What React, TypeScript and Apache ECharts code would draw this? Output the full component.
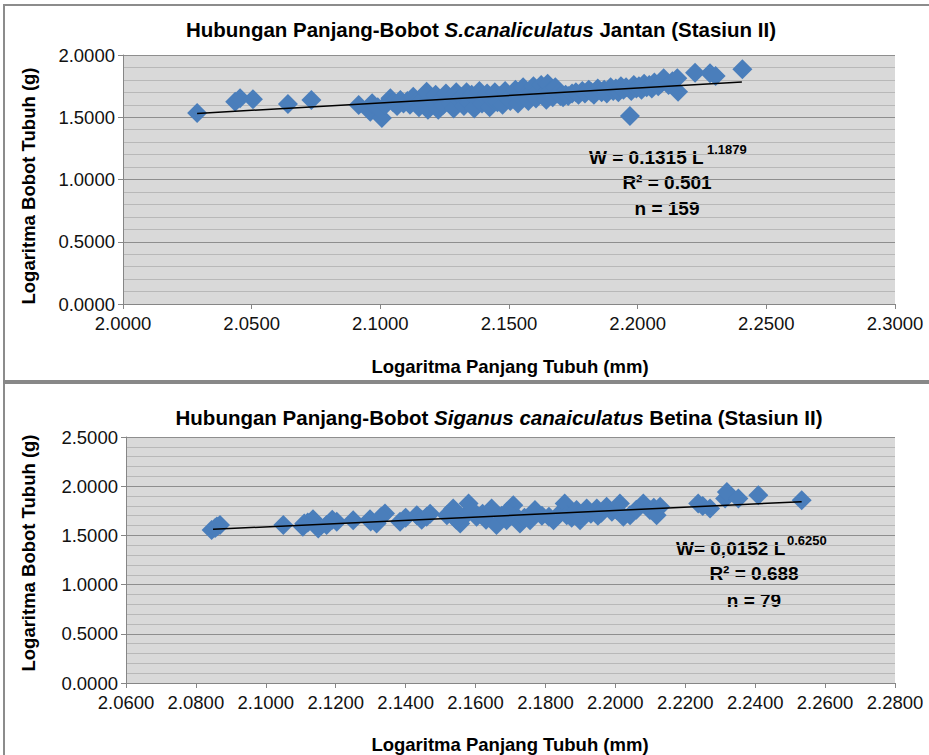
import React, { useEffect, useRef } from "react";
import * as echarts from "echarts";

const FONT = "Liberation Sans";

// Top chart (Jantan) – log length / log weight
const maleLogL = [
  2.0288, 2.0436, 2.0455, 2.0505, 2.0641, 2.0732,
  2.0916, 2.0961, 2.0968, 2.1006, 2.0990,
  2.1020, 2.1039, 2.1050, 2.1065, 2.1078, 2.1090, 2.1105, 2.1115, 2.1128, 2.1140, 2.1150, 2.1160, 2.1170, 2.1180, 2.1185, 2.1195,
  2.1205, 2.1215, 2.1225, 2.1235, 2.1245, 2.1255, 2.1265, 2.1275, 2.1285, 2.1295, 2.1305, 2.1315, 2.1325, 2.1335, 2.1345,
  2.1355, 2.1365, 2.1375, 2.1385, 2.1395, 2.1405, 2.1415, 2.1425, 2.1435, 2.1445, 2.1455, 2.1465, 2.1475, 2.1485, 2.1495,
  2.1505, 2.1515, 2.1525, 2.1535, 2.1545, 2.1555, 2.1565, 2.1575, 2.1585, 2.1595, 2.1605, 2.1615, 2.1625, 2.1635, 2.1645,
  2.1650, 2.1660, 2.1670, 2.1680, 2.1690,
  2.1700, 2.1710, 2.1720, 2.1730, 2.1745, 2.1760, 2.1770, 2.1785, 2.1795, 2.1810, 2.1820, 2.1830, 2.1845, 2.1860, 2.1870,
  2.1880, 2.1895,
  2.1905, 2.1915, 2.1925, 2.1935, 2.1945, 2.1955, 2.1970, 2.1975, 2.1985, 2.1995, 2.2005, 2.2015, 2.2025, 2.2035, 2.2045,
  2.2055, 2.2065, 2.2080, 2.2090, 2.2101, 2.2120, 2.2135, 2.2154, 2.2157,
  2.2223, 2.2281, 2.2303, 2.2407,
];
const maleLogW = [
  1.534, 1.625, 1.652, 1.644, 1.606, 1.639,
  1.598, 1.545, 1.612, 1.494, 1.580,
  1.600, 1.652, 1.620, 1.590, 1.639, 1.610, 1.630, 1.600, 1.665, 1.620, 1.580, 1.640, 1.600, 1.705, 1.560, 1.650,
  1.620, 1.680, 1.560, 1.640, 1.600, 1.690, 1.650, 1.610, 1.570, 1.700, 1.640, 1.660, 1.590, 1.700, 1.620,
  1.680, 1.570, 1.650, 1.710, 1.610, 1.660, 1.690, 1.580, 1.640, 1.700, 1.620, 1.670, 1.600, 1.710, 1.650,
  1.630, 1.690, 1.720, 1.610, 1.660, 1.740, 1.680, 1.630, 1.700, 1.750, 1.650, 1.720, 1.760, 1.690, 1.640,
  1.770, 1.710, 1.660, 1.740, 1.690,
  1.670, 1.660, 1.680, 1.670, 1.690, 1.700, 1.680, 1.710, 1.690, 1.720, 1.700, 1.680, 1.730, 1.700, 1.720,
  1.690, 1.740,
  1.710, 1.730, 1.700, 1.750, 1.720, 1.740, 1.510, 1.710, 1.760, 1.730, 1.750, 1.720, 1.770, 1.740, 1.760,
  1.730, 1.780, 1.750, 1.770, 1.813, 1.760, 1.790, 1.813, 1.705,
  1.858, 1.853, 1.831, 1.885,
];
const maleTrendL = [2.0288, 2.2405];
const maleTrendW = [1.53, 1.783];

// Bottom chart (Betina)
const femaleLogL = [
  2.0845, 2.0869, 2.0855, 2.0860,
  2.1050, 2.1106, 2.1120, 2.1135, 2.1174, 2.1150, 2.1203, 2.1190, 2.1110,
  2.1250, 2.1298, 2.1317, 2.1341, 2.1330, 2.1384, 2.1432, 2.1446, 2.1460, 2.1300, 2.1400, 2.1470,
  2.1518, 2.1536, 2.1556, 2.1570, 2.1580, 2.1592, 2.1603, 2.1545, 2.1620, 2.1630,
  2.1646, 2.1660, 2.1675, 2.1689, 2.1708, 2.1715, 2.1727, 2.1740, 2.1756, 2.1770, 2.1690, 2.1790,
  2.1823, 2.1840, 2.1855, 2.1861, 2.1875, 2.1889, 2.1899, 2.1918, 2.1930, 2.1810,
  2.1947, 2.1960, 2.1975, 2.1990, 2.2004, 2.2013, 2.2023, 2.2042, 2.1950,
  2.2080, 2.2099, 2.2110, 2.2118, 2.2128, 2.2060,
  2.2237, 2.2271, 2.2314, 2.2319, 2.2352, 2.2409, 2.2533, 2.2250,
];
const femaleLogW = [
  1.554, 1.605, 1.575, 1.590,
  1.605, 1.588, 1.630, 1.665, 1.605, 1.570, 1.638, 1.660, 1.620,
  1.655, 1.663, 1.622, 1.723, 1.690, 1.638, 1.706, 1.660, 1.689, 1.640, 1.680, 1.720,
  1.706, 1.774, 1.622, 1.700, 1.825, 1.750, 1.689, 1.660, 1.720, 1.660,
  1.774, 1.605, 1.700, 1.655, 1.806, 1.700, 1.622, 1.680, 1.655, 1.757, 1.740, 1.700,
  1.655, 1.720, 1.825, 1.706, 1.680, 1.757, 1.655, 1.774, 1.720, 1.690,
  1.774, 1.730, 1.790, 1.740, 1.757, 1.825, 1.689, 1.706, 1.700,
  1.825, 1.757, 1.780, 1.706, 1.790, 1.760,
  1.825, 1.774, 1.876, 1.942, 1.876, 1.909, 1.858, 1.800,
];
const femaleTrendL = [2.0849, 2.2533];
const femaleTrendW = [1.562, 1.842];

const topTicksX = { min: 2.0, max: 2.3, interval: 0.05 };
const bottomTicksX = { min: 2.06, max: 2.28, interval: 0.02 };
const topTicksY = { min: 0, max: 2.0, interval: 0.5 };
const bottomTicksY = { min: 0, max: 2.5, interval: 0.5 };

const zip = (a: number[], b: number[]) => a.map((v, i) => [v, b[i]]);

const BLUE = "#4a7ebb";
const AXIS = "#868686";
const TICK_FS = 18.5;

function yAxis(grid: number, t: { min: number; max: number; interval: number }) {
  return {
    type: "value",
    gridIndex: grid,
    min: t.min,
    max: t.max,
    interval: t.interval,
    axisLabel: {
      formatter: (v: number) => v.toFixed(4),
      fontSize: TICK_FS,
      color: "#111",
      fontFamily: FONT,
      margin: 8,
    },
    axisLine: { show: true, lineStyle: { color: AXIS } },
    axisTick: { show: true, length: 5, lineStyle: { color: AXIS } },
    splitLine: { show: true, lineStyle: { color: "#8e8e8e", width: 1 } },
    minorTick: { show: false, splitNumber: 5 },
    minorSplitLine: { show: true, lineStyle: { color: "#b8b8b8", width: 1 } },
  };
}

function xAxis(grid: number, t: { min: number; max: number; interval: number }) {
  return {
    type: "value",
    gridIndex: grid,
    min: t.min,
    max: t.max,
    interval: t.interval,
    axisLabel: {
      formatter: (v: number) => v.toFixed(4),
      fontSize: TICK_FS,
      color: "#111",
      fontFamily: FONT,
      margin: 10,
    },
    axisLine: { show: true, onZero: false, lineStyle: { color: AXIS } },
    axisTick: { show: true, length: 5, lineStyle: { color: AXIS } },
    splitLine: { show: false },
  };
}

const bold = (size: number) => `bold ${size}px "${FONT}"`;

export default function App() {
  const ref = useRef<HTMLDivElement>(null);
  useEffect(() => {
    document.body.style.margin = "0";
    const chart = echarts.init(ref.current!, null, { renderer: "svg" });
    const titleRich = {
      b: { font: bold(20.5), fill: "#000" },
      i: { font: `italic bold 20.5px "${FONT}"`, fill: "#000" },
    };
    const texts: any[] = [
      {
        type: "text",
        x: 481,
        y: 29,
        style: {
          text: "{b|Hubungan Panjang-Bobot }{i|S.canaliculatus}{b| Jantan (Stasiun II)}",
          align: "center",
          verticalAlign: "middle",
          rich: titleRich,
        },
      },
      {
        type: "text",
        x: 499,
        y: 417,
        style: {
          text: "{b|Hubungan Panjang-Bobot }{i|Siganus canaiculatus}{b| Betina (Stasiun II)}",
          align: "center",
          verticalAlign: "middle",
          rich: titleRich,
        },
      },
      { type: "text", x: 510, y: 366, style: { text: "Logaritma Panjang Tubuh (mm)", font: bold(18.5), fill: "#000", align: "center", verticalAlign: "middle" } },
      { type: "text", x: 510, y: 744, style: { text: "Logaritma Panjang Tubuh (mm)", font: bold(18.5), fill: "#000", align: "center", verticalAlign: "middle" } },
      { type: "text", x: 28, y: 186, rotation: Math.PI / 2, style: { text: "Logaritma Bobot Tubuh (g)", font: bold(18.5), fill: "#000", align: "center", verticalAlign: "middle" } },
      { type: "text", x: 28, y: 553, rotation: Math.PI / 2, style: { text: "Logaritma Bobot Tubuh (g)", font: bold(18.5), fill: "#000", align: "center", verticalAlign: "middle" } },
      // annotations top
      { type: "text", x: 589, y: 157, style: { text: "W = 0.1315 L", font: bold(19), fill: "#000", align: "left", verticalAlign: "middle" } },
      { type: "text", x: 707, y: 149, style: { text: "1.1879", font: bold(13), fill: "#000", align: "left", verticalAlign: "middle" } },
      { type: "text", x: 667, y: 182, style: { text: "R² = 0.501", font: bold(19), fill: "#000", align: "center", verticalAlign: "middle" } },
      { type: "text", x: 667, y: 208, style: { text: "n = 159", font: bold(19), fill: "#000", align: "center", verticalAlign: "middle" } },
      // annotations bottom
      { type: "text", x: 676, y: 548, style: { text: "W= 0,0152 L", font: bold(19), fill: "#000", align: "left", verticalAlign: "middle" } },
      { type: "text", x: 787, y: 540, style: { text: "0.6250", font: bold(13), fill: "#000", align: "left", verticalAlign: "middle" } },
      { type: "text", x: 754, y: 573, style: { text: "R² = 0.688", font: bold(19), fill: "#000", align: "center", verticalAlign: "middle" } },
      { type: "text", x: 754, y: 600, style: { text: "n = 79", font: bold(19), fill: "#000", align: "center", verticalAlign: "middle" } },
    ];
    const frame: any[] = [
      { type: "rect", shape: { x: 3, y: 4, width: 930, height: 2 }, style: { fill: "#8c8c8c" } },
      { type: "rect", shape: { x: 3, y: 4, width: 2, height: 760 }, style: { fill: "#8c8c8c" } },
      { type: "rect", shape: { x: 3, y: 380, width: 930, height: 4 }, style: { fill: "#888888" } },
    ];
    chart.setOption({
      animation: false,
      backgroundColor: "#ffffff",
      grid: [
        { left: 123, top: 55, width: 772, height: 249, show: true, backgroundColor: "#d9d9d9", borderWidth: 0 },
        { left: 126, top: 437, width: 769, height: 246, show: true, backgroundColor: "#d9d9d9", borderWidth: 0 },
      ],
      xAxis: [xAxis(0, topTicksX), xAxis(1, bottomTicksX)],
      yAxis: [yAxis(0, topTicksY), yAxis(1, bottomTicksY)],
      series: [
        {
          type: "scatter",
          xAxisIndex: 0,
          yAxisIndex: 0,
          symbol: "diamond",
          symbolSize: 20,
          itemStyle: { color: BLUE, opacity: 1 },
          data: zip(maleLogL, maleLogW),
        },
        {
          type: "line",
          xAxisIndex: 0,
          yAxisIndex: 0,
          symbol: "none",
          lineStyle: { color: "#000", width: 1.5 },
          data: zip(maleTrendL, maleTrendW),
          z: 5,
        },
        {
          type: "scatter",
          xAxisIndex: 1,
          yAxisIndex: 1,
          symbol: "diamond",
          symbolSize: 20,
          itemStyle: { color: BLUE, opacity: 1 },
          data: zip(femaleLogL, femaleLogW),
        },
        {
          type: "line",
          xAxisIndex: 1,
          yAxisIndex: 1,
          symbol: "none",
          lineStyle: { color: "#000", width: 1.5 },
          data: zip(femaleTrendL, femaleTrendW),
          z: 5,
        },
      ],
      graphic: [...frame, ...texts],
    });
    return () => chart.dispose();
  }, []);
  return <div ref={ref} style={{ width: 929, height: 755 }} />;
}
